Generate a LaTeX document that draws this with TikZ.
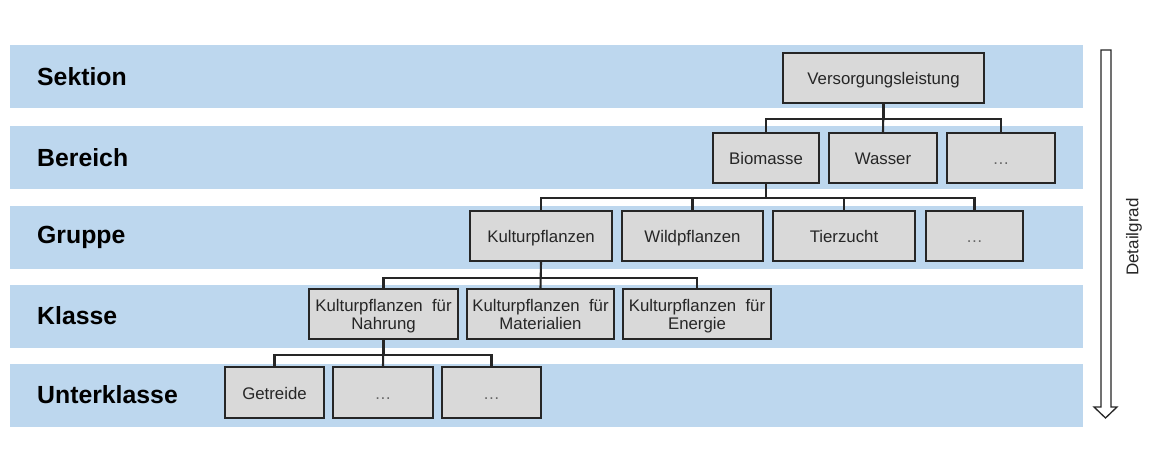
\documentclass[tikz,border=0pt]{standalone}
\usepackage{fontspec}
\setmainfont{Liberation Sans}
\definecolor{bandblue}{RGB}{189,215,238}
\definecolor{boxgray}{RGB}{217,217,217}
\definecolor{edge}{RGB}{38,38,38}
\newcommand{\dotsbox}{\textcolor{black!60}{…}}
\begin{document}
\begin{tikzpicture}[x=1pt,y=-1pt,
  band/.style={fill=bandblue,draw=none,inner sep=0,minimum width=1073pt,minimum height=63pt},
  lvl/.style={anchor=west,inner sep=0,font=\fontsize{24.8}{28}\selectfont\bfseries},
  box/.style={draw=edge,line width=1.8pt,fill=boxgray,inner sep=0,minimum height=50pt,align=center,
    font=\fontsize{16.8}{18}\selectfont,text=black!85},
  one/.style={text height=13pt,text depth=0pt},
  two/.style={text height=31pt,text depth=1pt},
  conn/.style={draw=edge,line width=2.1pt}]
\useasboundingbox (0,0) rectangle (1149,450);
% bands
\node[band] (s1) at (546.5,76.5) {};
\node[band] (s2) at (546.5,157.5) {};
\node[band] (s3) at (546.5,237) {};
\node[band] (s4) at (546.5,316) {};
\node[band] (s5) at (546.5,395) {};
\node[lvl] (l1) at (37,76.5) {Sektion};
\node[lvl] (l2) at (37,157.5) {Bereich};
\node[lvl] (l3) at (37,237) {Gruppe};
\node[lvl] (l4) at (37,316) {Klasse};
\node[lvl] (l5) at (37,395) {Unterklasse};
% boxes
\node[box,one,minimum width=201pt] (vl) at (883.5,78) {Versorgungsleistung};
\node[box,one,minimum width=106pt] (bio) at (766,158) {Biomasse};
\node[box,one,minimum width=108pt] (was) at (883,158) {Wasser};
\node[box,one,minimum width=108pt] (d1) at (1001,158) {\dotsbox};
\node[box,one,minimum width=142pt] (kp) at (541,236) {Kulturpflanzen};
\node[box,one,minimum width=141pt] (wp) at (692.5,236) {Wildpflanzen};
\node[box,one,minimum width=142pt] (tz) at (844,236) {Tierzucht};
\node[box,one,minimum width=97pt] (d2) at (974.5,236) {\dotsbox};
\node[box,two,minimum width=149pt] (kn) at (383.5,314) {Kulturpflanzen\ \ für\\Nahrung};
\node[box,two,minimum width=147pt] (km) at (540.5,314) {Kulturpflanzen\ \ für\\Materialien};
\node[box,two,minimum width=148pt] (ke) at (697,314) {Kulturpflanzen\ \ für\\Energie};
\node[box,one,minimum width=99pt,minimum height=51pt] (get) at (274.5,392.5) {Getreide};
\node[box,one,minimum width=100pt,minimum height=51pt] (d3) at (383,392.5) {\dotsbox};
\node[box,one,minimum width=99pt,minimum height=51pt] (d4) at (491.5,392.5) {\dotsbox};
% connectors
\draw[conn] (vl.south) -- (was.north);
\draw[conn] (vl.south) -- ++(0,15) -| (bio.north);
\draw[conn] (vl.south) -- ++(0,15) -| (d1.north);
\draw[conn] (bio.south) -- ++(0,14) -| (kp.north);
\draw[conn] (bio.south) -- ++(0,14) -| (wp.north);
\draw[conn] (bio.south) -- ++(0,14) -| (tz.north);
\draw[conn] (bio.south) -- ++(0,14) -| (d2.north);
\draw[conn] (kp.south) -- (km.north);
\draw[conn] (kp.south) -- ++(0,16) -| (kn.north);
\draw[conn] (kp.south) -- ++(0,16) -| (ke.north);
\draw[conn] (kn.south) -- (d3.north);
\draw[conn] (kn.south) -- ++(0,15) -| (get.north);
\draw[conn] (kn.south) -- ++(0,15) -| (d4.north);
% Detailgrad arrow
\coordinate (atip) at (1105.5,418);
\draw[edge,line width=1.3pt,line join=miter,fill=white]
  (1101,50) -- (1111,50) -- (1111,407) -- (1117,407) -- (atip) -- (1094,407) -- (1101,407) -- cycle;
\node[rotate=90,inner sep=0,font=\fontsize{17}{20}\selectfont,text=black!85] (dg) at (1134,237) {Detailgrad};
\end{tikzpicture}
\end{document}
